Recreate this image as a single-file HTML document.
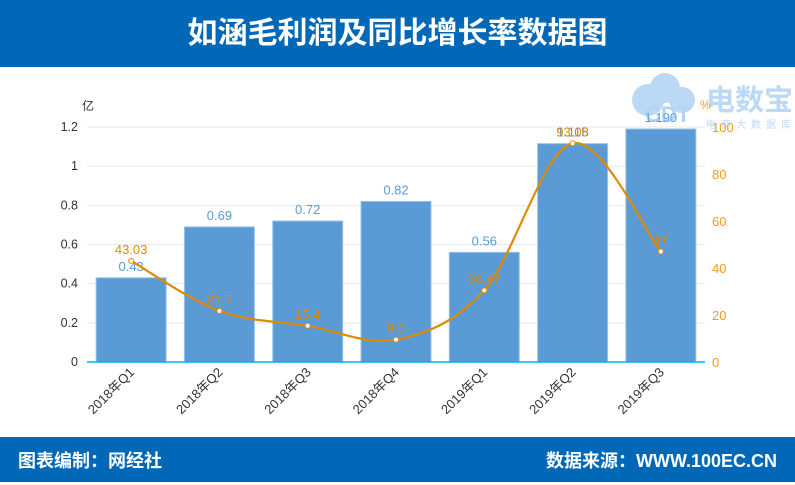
<!DOCTYPE html>
<html><head><meta charset="utf-8"><style>
body{margin:0;width:795px;height:482px;overflow:hidden;background:#fff;font-family:"Liberation Sans","Noto Sans CJK SC",sans-serif;}
#hdr{position:absolute;left:0;top:0;width:795px;height:67px;background:#0068b7;color:#fff;font-size:30px;font-weight:bold;text-align:center;line-height:67px;}
#ftr{position:absolute;left:0;top:437px;width:795px;height:45px;background:#0068b7;color:#fff;font-size:18px;font-weight:bold;line-height:48px;}
svg{position:absolute;left:0;top:0}
</style></head><body>
<div id="hdr">如涵毛利润及同比增长率数据图</div>
<div id="ftr"><span style="position:absolute;left:18px">图表编制：网经社</span><span style="position:absolute;right:18px">数据来源：WWW.100EC.CN</span></div>
<svg id="chart" width="795" height="437"></svg>
<script>
const categories=["2018年Q1","2018年Q2","2018年Q3","2018年Q4","2019年Q1","2019年Q2","2019年Q3"];
const profit=[0.43,0.69,0.72,0.82,0.56,1.115,1.190];
const profitLabels=["0.43","0.69","0.72","0.82","0.56","1.115","1.190"];
const growth=[43.03,21.7,15.4,9.5,30.47,93.08,47];
const growthLabels=["43.03","21.7","15.4","9.5","30.47","93.08","47"];
const leftTicks=[0,0.2,0.4,0.6,0.8,1,1.2];
const rightTicks=[0,20,40,60,80,100];
const NS="http://www.w3.org/2000/svg";
const svg=document.getElementById('chart');
const X0=87,X1=705,Y0=362,Y1=127;
const step=(X1-X0)/categories.length;
const xc=i=>X0+step*(i+0.5);
const yL=v=>Y0-(v/1.2)*(Y0-Y1);
const yR=v=>Y0-(v/100)*(Y0-Y1);
function mk(t,a,txt){const e=document.createElementNS(NS,t);for(const k in a)e.setAttribute(k,a[k]);if(txt!==undefined)e.textContent=txt;svg.appendChild(e);return e;}
leftTicks.forEach(v=>{
 if(v>0){const g=mk('line',{x1:X0,x2:X1,y1:yL(v),y2:yL(v),stroke:'#e8e8e8','stroke-width':1});
 
 }
 const t=mk('text',{x:78,y:yL(v)+4,'text-anchor':'end','font-size':12.5,fill:'#333'},String(v));
 
 
});
rightTicks.forEach(v=>{
 const t=mk('text',{x:712,y:yR(v)+5,'font-size':13,fill:'#f39c12'},String(v));
 
 
});
let ut=mk('text',{x:82,y:110,'font-size':12,fill:'#333'},'亿');


let ur=mk('text',{x:700,y:109,'font-size':12,fill:'#f39c12'},'%');


const bw=70;
profit.forEach((v,i)=>{
 const r=mk('rect',{x:xc(i)-bw/2,y:yL(v),width:bw,height:Y0-yL(v),fill:'#5b9bd5',stroke:'#9cc3e8','stroke-width':1});
 
 
 const t=mk('text',{x:xc(i),y:yL(v)-7,'text-anchor':'middle','font-size':13,fill:'#5b9bd5'},profitLabels[i]);
 
 
 const c=mk('text',{transform:`translate(${xc(i)+4},${Y0+11}) rotate(-45)`,'text-anchor':'end','font-size':13,fill:'#333'},categories[i]);
 
 
});
let ax=mk('line',{x1:X0,x2:X1,y1:Y0,y2:Y0,stroke:'#00b0f0','stroke-width':1.5});


const pts=growth.map((v,i)=>[xc(i),yR(v)]);
let d=`M${pts[0][0]},${pts[0][1]}`;
for(let i=0;i<pts.length-1;i++){const p0=pts[Math.max(0,i-1)],p1=pts[i],p2=pts[i+1],p3=pts[Math.min(pts.length-1,i+2)];
 const c1=[p1[0]+(p2[0]-p0[0])/6,p1[1]+(p2[1]-p0[1])/6],c2=[p2[0]-(p3[0]-p1[0])/6,p2[1]-(p3[1]-p1[1])/6];
 d+=` C${c1[0]},${c1[1]} ${c2[0]},${c2[1]} ${p2[0]},${p2[1]}`;}
let ln=mk('path',{d:d,fill:'none',stroke:'#e08a00','stroke-width':2.2});


pts.forEach((p,i)=>{
 const c=mk('circle',{cx:p[0],cy:p[1],r:2.5,fill:'#fff',stroke:'#e08a00','stroke-width':1});
 
 
 const t=mk('text',{x:p[0],y:p[1]-7,'text-anchor':'middle','font-size':13,fill:'#e08a00'},growthLabels[i]);
 
 
});
let w=mk('g',{opacity:0.6});


w.innerHTML='<circle cx="648" cy="100" r="16" fill="#8ec1f0"/><circle cx="665" cy="88" r="15" fill="#8ec1f0"/><circle cx="682" cy="100" r="13" fill="#8ec1f0"/><text x="645" y="122" font-size="22" font-weight="bold" fill="#7fb6e8">CDT</text><text x="706" y="110" font-size="29" font-weight="bold" fill="#8ec1f0">电数宝</text><text x="706" y="128" font-size="10" fill="#8ec1f0" letter-spacing="5">电商大数据库</text>';
</script>
</body></html>
